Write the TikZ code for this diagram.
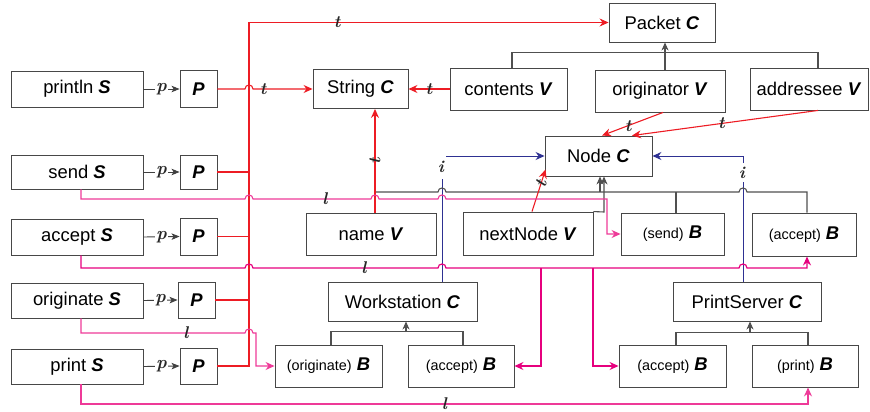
\documentclass[tikz,border=0pt]{standalone}
\usepackage{fontspec}
\newfontfamily\hv{Liberation Sans}
\usetikzlibrary{arrows.meta}
\definecolor{myred}{HTML}{ED1C24}
\definecolor{myblue}{HTML}{2E3192}
\definecolor{pinkd}{HTML}{E6007E}
\definecolor{pinkl}{HTML}{EE3A98}
\definecolor{treegray}{HTML}{505050}
\newcommand{\bfit}[1]{\textbf{\textit{#1}}}
\newcommand{\smpart}[1]{{\fontsize{14.4}{16}\selectfont #1}}
\tikzset{
  box/.style={draw=black!72, line width=0.9pt, fill=white, inner sep=0pt, anchor=center,
    font=\hv\fontsize{18.4}{20}\selectfont},
  redl/.style={draw=myred, line width=1.1pt},
  bluel/.style={draw=myblue, line width=0.9pt},
  pinkdl/.style={draw=pinkd, line width=1.2pt},
  pinkll/.style={draw=pinkl, line width=1.1pt},
  tree/.style={draw=treegray, line width=1.1pt},
  parr/.style={draw=black!75, line width=0.9pt, -{Stealth[length=8pt,width=6.5pt,inset=2pt]}},
  tip/.style={-{Stealth[length=9pt,width=8pt,inset=3pt]}},
  stip/.style={-{Stealth[length=8pt,width=7pt,inset=2.5pt]}},
  lbl/.style={font=\fontsize{17}{18}\selectfont\bfseries\itshape, inner sep=0.5pt, text=black!85},
  plbl/.style={font=\fontsize{18}{18}\selectfont\bfseries\itshape, inner sep=0.8pt, fill=white, text=black!85},
}
\newcommand{\bx}[6]{\node[box, minimum width=#4pt, minimum height=#5pt] (#1) at (#2,#3) {#6};}
\begin{document}
\begin{tikzpicture}[x=1pt,y=-1pt]
\useasboundingbox (0,0) rectangle (870,412);
% boxes
\bx{printlnS}{77}{89}{132}{36}{println \bfit{S}}
\bx{sendS}{77}{172}{132}{34}{send \bfit{S}}
\bx{acceptS}{77}{237}{132}{36}{accept \bfit{S}}
\bx{originateS}{77}{300.5}{132}{35}{originate \bfit{S}}
\bx{printS}{77}{366.5}{132}{35}{print \bfit{S}}
\bx{printlnP}{198.5}{89}{37}{37}{\bfit{P}}
\bx{sendP}{198.5}{172}{37}{34}{\bfit{P}}
\bx{acceptP}{198.5}{236.5}{37}{37}{\bfit{P}}
\bx{originateP}{196.5}{300}{37}{36}{\bfit{P}}
\bx{printP}{198.5}{366}{37}{36}{\bfit{P}}
\bx{StringC}{360.5}{89}{95}{39}{String \bfit{C}}
\bx{contentsV}{508.5}{89}{117}{42}{contents \bfit{V}}
\bx{PacketC}{662}{22.5}{106}{39}{Packet \bfit{C}}
\bx{originatorV}{660}{91}{130}{42}{originator \bfit{V}}
\bx{addresseeV}{809}{89}{118}{42}{addressee \bfit{V}}
\bx{NodeC}{598.5}{156}{107}{40}{Node \bfit{C}}
\bx{nameV}{371}{234}{130}{42}{name \bfit{V}}
\bx{nextNodeV}{528}{233.5}{130}{43}{nextNode \bfit{V}}
\bx{sendB}{672.5}{234}{103}{42}{\smpart{(send)} \bfit{B}}
\bx{acceptBa}{804}{234.5}{104}{43}{\smpart{(accept)} \bfit{B}}
\bx{WorkstationC}{402.5}{301.5}{149}{39}{Workstation \bfit{C}}
\bx{PrintServerC}{747}{301.5}{148}{39}{PrintServer \bfit{C}}
\bx{originateB}{328.5}{366}{107}{42}{\smpart{(originate)} \bfit{B}}
\bx{acceptBb}{461}{366}{106}{42}{\smpart{(accept)} \bfit{B}}
\bx{acceptBc}{672.5}{366}{107}{42}{\smpart{(accept)} \bfit{B}}
\bx{printB}{805}{366}{106}{42}{\smpart{(print)} \bfit{B}}
\coordinate (busx) at (249,0);
\coordinate (xn) at (375,0);
% p arrows
\draw[parr] (printlnS.east) -- node[plbl] (p1) {p} (printlnP.west);
\draw[parr] (sendS.east) -- node[plbl] (p2) {p} (sendP.west);
\draw[parr] (acceptS.east) -- node[plbl] (p3) {p} (acceptP.west);
\draw[parr] (originateS.east) -- node[plbl] (p4) {p} (originateP.west);
\draw[parr] (printS.east) -- node[plbl] (p5) {p} (printP.west);
% blue inheritance
\draw[bluel] ([xshift=39.5pt]WorkstationC.north) -- (442,179);
\node[lbl] (i1) at (441,167) {i};
\draw[bluel,tip] (446,156) -- (NodeC.west);
\draw[bluel] ([xshift=-4pt]PrintServerC.north) -- (743,182);
\node[lbl] (i2) at (742,173) {i};
\draw[bluel,tip] (743,163) -- (743,156) -- (NodeC.east);
% red bus
\draw[redl] (sendP.east) -- (sendP.east -| busx);
\draw[redl] (acceptP.east) -- (acceptP.east -| busx);
\draw[redl] (originateP.east) -- (originateP.east -| busx);
\draw[redl,tip] (printP.east) -- (printP.east -| busx) -- (busx |- PacketC.west)
  -- node[lbl,pos=0.245] (t1) {t} (PacketC.west);
\draw[redl,tip] (printlnP.east) -- (245,89) .. controls (245,83.7) and (253,83.7) .. (253,89)
  -- node[lbl,pos=0.17] (t2) {t} (StringC.west);
\draw[redl,tip] (contentsV.west) -- node[lbl] (t3) {t} (StringC.east);
% Packet tree
\draw[tree] ([xshift=3.5pt]contentsV.north) -- ++(0,-15) -| ([xshift=9pt]addresseeV.north);
\draw[tree,stip] ([xshift=5pt]originatorV.north) -- ([xshift=3pt]PacketC.south);
% Node tree
\draw[tree] (nameV.north -| xn) -- (375,192) -- (438,192) .. controls (438,186.7) and (446,186.7) .. (446,192)
  -- (739,192) .. controls (739,186.7) and (747,186.7) .. (747,192) -- (807,192) -- ([xshift=3pt]acceptBa.north);
\draw[tree] ([xshift=3.5pt]sendB.north) -- ++(0,-21);
\draw[tree,stip] (600,192) -- ([xshift=1.5pt]NodeC.south);
\draw[tree,stip] (nextNodeV.north east) -- (604,212) -- ([xshift=5.5pt]NodeC.south);
% Workstation / PrintServer trees
\draw[tree] ([xshift=2.5pt]originateB.north) -- ++(0,-13) -| ([xshift=2pt]acceptBb.north);
\draw[tree,stip] (406,332) -- ([xshift=3.5pt]WorkstationC.south);
\draw[tree] ([xshift=3.5pt]acceptBc.north) -- ++(0,-12) -| ([xshift=3pt]printB.north);
\draw[tree,stip] (750,333) -- ([xshift=3pt]PrintServerC.south);
% red type links to String / Node
\draw[redl,tip] (nameV.north -| xn) -- node[lbl,sloped] (t4) {t} (StringC.south -| xn);
\draw[redl,tip] ([xshift=3pt]originatorV.south) -- node[lbl,pos=0.57] (t5) {t} ([xshift=3.5pt]NodeC.north);
\draw[redl,tip] ([xshift=9pt]addresseeV.south) -- node[lbl,pos=0.52] (t6) {t} ([xshift=33.5pt]NodeC.north);
\draw[redl,tip] ([xshift=4pt]nextNodeV.north) -- node[lbl,sloped,pos=0.67] (t7) {t} ([xshift=1pt,yshift=7pt]NodeC.south west);
% pink links
\draw[pinkll,tip] ([xshift=4pt]sendS.south) -- (81,199) -- (245,199) .. controls (245,193.7) and (253,193.7) .. (253,199)
  -- node[lbl,pos=0.61] (l1) {l} (371,199) .. controls (371,193.7) and (379,193.7) .. (379,199)
  -- (438,199) .. controls (438,193.7) and (446,193.7) .. (446,199)
  -- (607,199) -- (607,234) -- (sendB.west);
\draw[pinkdl,tip] ([xshift=4pt]acceptS.south) -- (81,268) -- (245,268) .. controls (245,262.7) and (253,262.7) .. (253,268)
  -- node[lbl,pos=0.6] (l2) {l} (438,268) .. controls (438,262.7) and (446,262.7) .. (446,268)
  -- (739,268) .. controls (739,262.7) and (747,262.7) .. (747,268)
  -- (807,268) -- ([xshift=3pt]acceptBa.south);
\draw[pinkdl,tip] (541,268) |- (acceptBb.east);
\draw[pinkdl,tip] (593,268) |- (acceptBc.west);
\draw[pinkll,tip] ([xshift=4pt]originateS.south) -- (81,333) -- node[lbl,pos=0.64] (l3) {l} (245,333)
  .. controls (245,327.7) and (253,327.7) .. (253,333) -- (256,333) |- (originateB.west);
\draw[pinkll,tip] ([xshift=4pt]printS.south) -- (81,404) -- node[lbl,pos=0.5] (l4) {l} (808,404) -- ([xshift=3pt]printB.south);
\end{tikzpicture}
\end{document}
